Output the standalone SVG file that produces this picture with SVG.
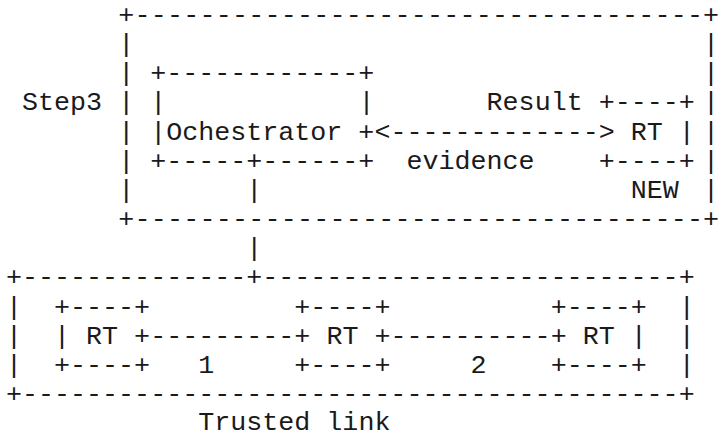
<svg xmlns="http://www.w3.org/2000/svg" width="719" height="437" viewBox="0 0 719 437" xml:space="preserve">
  <style>
    /* monospaced character grid: column pitch 16.02px, row pitch 29.15px */
    .t { font-family: "Liberation Mono", "DejaVu Sans Mono", monospace; font-size: 26.7px; fill: #1a1a1a; white-space: pre; }
  </style>
  <rect x="0" y="0" width="719" height="437" fill="#ffffff"/>

  <!-- Step3 domain: outer frame around orchestrator and the new RT -->
  <g id="step3-domain" class="t">
    <text x="118.14" y="23" textLength="584.86" lengthAdjust="spacing">+-----------------------------------</text>
    <text x="703" y="23">+</text>
    <text x="118.14" y="52.15">|</text>
    <text x="118.14" y="81.3">|</text>
    <text x="118.14" y="110.45">|</text>
    <text x="118.14" y="139.6">|</text>
    <text x="118.14" y="168.75">|</text>
    <text x="118.14" y="197.9">|</text>
    <text x="703" y="52.15">|</text>
    <text x="703" y="81.3">|</text>
    <text x="703" y="110.45">|</text>
    <text x="703" y="139.6">|</text>
    <text x="703" y="168.75">|</text>
    <text x="703" y="197.9">|</text>
    <text x="118.14" y="227.05" textLength="584.86" lengthAdjust="spacing">+-----------------------------------</text>
    <text x="703" y="227.05">+</text>
    <text x="22.02" y="110.45">Step3</text>
  </g>

  <!-- Orchestrator -->
  <g id="orchestrator" class="t">
    <text x="150.18" y="81.3">+------------+</text>
    <text x="150.18" y="110.45">|</text>
    <text x="358.44" y="110.45">|</text>
    <text x="150.18" y="139.6">|Ochestrator +</text>
    <text x="150.18" y="168.75">+-----+------+</text>
  </g>

  <!-- New RT joining the trusted group -->
  <g id="rt-new" class="t">
    <text x="598.74" y="110.45">+----+</text>
    <text x="630.78" y="139.6">RT |</text>
    <text x="598.74" y="168.75">+----+</text>
    <text x="630.78" y="197.9">NEW</text>
  </g>

  <!-- Trusted domain frame -->
  <g id="trusted-domain" class="t">
    <text x="6" y="285.35">+--------------+--------------------------+</text>
    <text x="6" y="314.5">|</text>
    <text x="6" y="343.65">|</text>
    <text x="6" y="372.8">|</text>
    <text x="678.84" y="314.5">|</text>
    <text x="678.84" y="343.65">|</text>
    <text x="678.84" y="372.8">|</text>
    <text x="6" y="401.95">+-----------------------------------------+</text>
    <text x="198.24" y="430">Trusted link</text>
  </g>

  <!-- RTs inside the trusted domain -->
  <g id="rt-1" class="t">
    <text x="54.06" y="314.5">+----+</text>
    <text x="54.06" y="343.65">| RT +</text>
    <text x="54.06" y="372.8">+----+</text>
  </g>
  <g id="rt-2" class="t">
    <text x="294.36" y="314.5">+----+</text>
    <text x="294.36" y="343.65">+ RT +</text>
    <text x="294.36" y="372.8">+----+</text>
  </g>
  <g id="rt-3" class="t">
    <text x="550.68" y="314.5">+----+</text>
    <text x="550.68" y="343.65">+ RT |</text>
    <text x="550.68" y="372.8">+----+</text>
  </g>

  <!-- Links between nodes -->
  <g id="connectors" class="t">
    <text x="374.46" y="139.6">&lt;-------------&gt;</text>
    <text x="486.6" y="110.45">Result</text>
    <text x="406.5" y="168.75">evidence</text>
    <text x="246.3" y="197.9">|</text>
    <text x="246.3" y="256.2">|</text>
    <text x="150.18" y="343.65">---------</text>
    <text x="390.48" y="343.65">----------</text>
    <text x="198.24" y="372.8">1</text>
    <text x="470.58" y="372.8">2</text>
  </g>
</svg>
